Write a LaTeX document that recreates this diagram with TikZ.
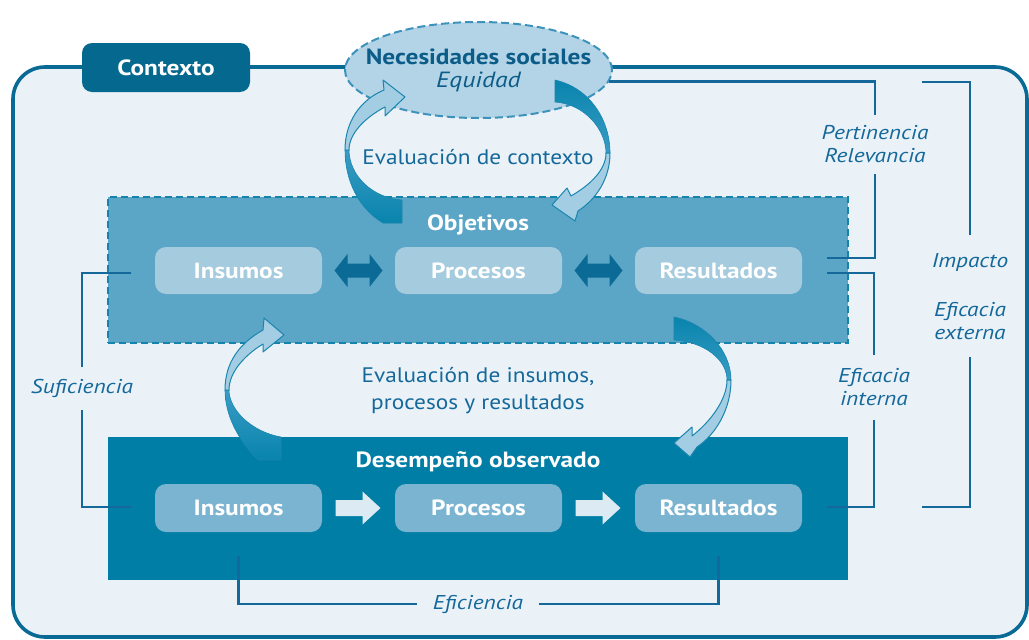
\documentclass[tikz,border=0pt]{standalone}
\usepackage{fontspec}
\setmainfont[FakeStretch=1.11, BoldFeatures={FakeStretch=1.15}, ItalicFeatures={FakeStretch=1.17}]{PT Sans}
\usetikzlibrary{shapes.geometric,calc}
\definecolor{frameC}{HTML}{0A6A96}
\definecolor{bgC}{HTML}{EAF2F8}
\definecolor{tabC}{HTML}{05688F}
\definecolor{ellC}{HTML}{B3D4E6}
\definecolor{ellD}{HTML}{3D92BB}
\definecolor{objC}{HTML}{5BA5C6}
\definecolor{objD}{HTML}{1683AD}
\definecolor{inTop}{HTML}{A5CBDE}
\definecolor{darkArr}{HTML}{0B6A96}
\definecolor{desC}{HTML}{007EA6}
\definecolor{inBot}{HTML}{7BB4D0}
\definecolor{whArr}{HTML}{DCEBF3}
\definecolor{brkC}{HTML}{14699A}
\definecolor{txtC}{HTML}{14689A}
\definecolor{necC}{HTML}{0B5C88}
\definecolor{ribL}{HTML}{A3CDE2}
\definecolor{ribD}{HTML}{0884AD}
\definecolor{ribM}{HTML}{3A9CC4}
\definecolor{ribE}{HTML}{1A86AF}
\newcommand\lblfont{\bfseries\fontsize{22}{26}\selectfont}
\newcommand\itfont{\itshape\fontsize{20}{23}\selectfont}
\newcommand\rgfont{\fontsize{21}{27}\selectfont}
\tikzset{
  tab/.style={fill=tabC, rounded corners=10pt, minimum width=168pt, minimum height=49pt, text=white, font=\lblfont},
  objbox/.style={fill=objC, draw=objD, line width=2pt, dash pattern=on 7pt off 4pt, minimum width=740pt, minimum height=146pt, inner sep=0pt},
  desbox/.style={fill=desC, minimum width=740pt, minimum height=143pt, inner sep=0pt},
  topin/.style={fill=inTop, rounded corners=11pt, minimum width=167pt, minimum height=47pt, text=white, font=\lblfont, inner sep=0pt},
  botin/.style={topin, fill=inBot, minimum height=48pt},
  title/.style={text=white, font=\lblfont, inner sep=0pt},
  brk/.style={draw=brkC, line width=2.6pt},
  itl/.style={text=txtC, font=\itfont, align=center, inner sep=0pt},
  rg/.style={text=txtC, font=\rgfont, align=center, inner sep=0pt},
  ribhead/.style={fill=ribL, draw=ribE, line width=1pt, line join=round},
  ribtail/.style={top color=ribD, bottom color=ribM, draw=ribE, line width=0.6pt, line join=round},
  ribtailup/.style={top color=ribM, bottom color=ribD, draw=ribE, line width=0.6pt, line join=round},
  dblarrow/.pic={\fill[darkArr] (-24,0) -- (-11,-16.5) -- (-11,-7) -- (11,-7) -- (11,-16.5) -- (24,0) -- (11,16.5) -- (11,7) -- (-11,7) -- (-11,16.5) -- cycle;},
  fwdarrow/.pic={\fill[whArr] (-23,-8) -- (4,-8) -- (4,-16.5) -- (22,0) -- (4,16.5) -- (4,8) -- (-23,8) -- cycle;}
}
\begin{document}
\begin{tikzpicture}[x=1pt,y=-1pt]
\useasboundingbox (0,0) rectangle (1029,640);
% frame
\draw[line width=3.6pt, draw=frameC, fill=bgC, rounded corners=32pt] (13,67) rectangle (1027,637);
\node[tab] (ctx) at (166,67.5) {Contexto};
% ellipse
\node[ellipse, fill=ellC, draw=ellD, line width=2pt, dash pattern=on 8pt off 4pt, minimum width=267pt, minimum height=96pt, inner sep=0pt] (nec) at (478.5,70) {};
\node[align=center, text=necC, font=\lblfont, inner sep=0pt] (nect) at (nec.center) {Necesidades sociales\\[-3pt]{\mdseries\itshape Equidad}};
% main boxes
\node[objbox] (obj) at (478,270) {};
\node[desbox] (des) at (478,508.5) {};
\node[title] (objt) at (478,225) {Objetivos};
\node[title] (dest) at (478,462) {Desempeño observado};
\node[topin] (i1) at (238.5,270.5) {Insumos};
\node[topin] (p1) at (478.5,270.5) {Procesos};
\node[topin] (r1) at (718.5,270.5) {Resultados};
\node[botin] (i2) at (238.5,508) {Insumos};
\node[botin] (p2) at (478.5,508) {Procesos};
\node[botin] (r2) at (718.5,508) {Resultados};
\path (i1.east) -- (p1.west) coordinate[midway] (da1);
\path (p1.east) -- (r1.west) coordinate[midway] (da2);
\path (i2.east) -- (p2.west) coordinate[midway] (fa1);
\path (p2.east) -- (r2.west) coordinate[midway] (fa2);
\pic at (da1) {dblarrow};
\pic at (da2) {dblarrow};
\pic at (fa1) {fwdarrow};
\pic at (fa2) {fwdarrow};
% ribbon arrows: upper loop
\path[ribtailup] (345,150) .. controls (345,180) and (358,208) .. (383,223) -- (402,223) -- (402,200) .. controls (372,198) and (349,175) .. (349,150) -- cycle;
\path[ribhead] (345,150) .. controls (345,122) and (360,100) .. (384,90) -- (383,80) -- (405,97) -- (385,116) -- (385,107) .. controls (366,117) and (349,133) .. (349,150) -- cycle;
\path[ribtail] (555,80) .. controls (590,88) and (610,120) .. (610,153) -- (606,153) .. controls (606,130) and (585,104) .. (555,102) -- cycle;
\path[ribhead] (610,153) .. controls (610,180) and (595,200) .. (578,211) -- (575,221) -- (552,205) -- (567,188) -- (571,196) .. controls (590,185) and (606,170) .. (606,153) -- cycle;
% ribbon arrows: lower loop
\path[ribtailup] (225,390) .. controls (225,415) and (238,440) .. (258,460) -- (281,460) -- (281,437) .. controls (252,432) and (229,410) .. (229,390) -- cycle;
\path[ribhead] (225,390) .. controls (225,362) and (240,343) .. (263,330) -- (264,318) -- (284,335) -- (263,352) -- (263,344) .. controls (245,355) and (229,372) .. (229,390) -- cycle;
\path[ribtail] (674,317) .. controls (705,323) and (731,350) .. (731,380) -- (727,380) .. controls (727,360) and (705,342) .. (674,340) -- cycle;
\path[ribhead] (731,380) .. controls (731,410) and (715,435) .. (697,447) -- (690,457) -- (674,443) -- (692,427) -- (692,436) .. controls (710,422) and (727,400) .. (727,380) -- cycle;
% loop texts
\node[rg] (evc) at (478,157) {Evaluación de contexto};
\node[rg] (evi) at (478,391) {Evaluación de insumos,\\procesos y resultados};
% bracket labels
\node[itl, minimum height=59pt] (pert) at (875,144.5) {Pertinencia\\Relevancia};
\node[itl, minimum height=65pt] (eint) at (874,387.5) {Eficacia\\interna};
\node[itl, minimum height=54pt] (imp) at (970,262) {Impacto};
\node[itl, minimum height=72pt] (eext) at (970,321) {Eficacia\\externa};
\node[itl, minimum height=43pt] (suf) at (82,388.5) {Suficiencia};
\node[itl, minimum width=122pt] (efi) at (478,604) {Eficiencia};
% bracket coordinates
\coordinate (pstub) at (827,258);
\coordinate (istub) at (827,273);
\coordinate (irstub) at (827,507);
\coordinate (itop) at (922,82);
\coordinate (ibot) at (922,507);
\coordinate (s1) at (131,273);
\coordinate (s2) at (131,507);
% brackets
\draw[brk] (nec.-5) -| (pert.north);
\draw[brk] (pert.south) |- (pstub);
\draw[brk] (istub) -| (eint.north);
\draw[brk] (eint.south) |- (irstub);
\draw[brk] (itop) -| (imp.north);
\draw[brk] (eext.south) |- (ibot);
\draw[brk] (s1) -| (suf.north);
\draw[brk] (suf.south) |- (s2);
\draw[brk] ($(i2.south)+(0,24)$) |- (efi.west);
\draw[brk] ($(r2.south)+(0,24)$) |- (efi.east);
\end{tikzpicture}
\end{document}
